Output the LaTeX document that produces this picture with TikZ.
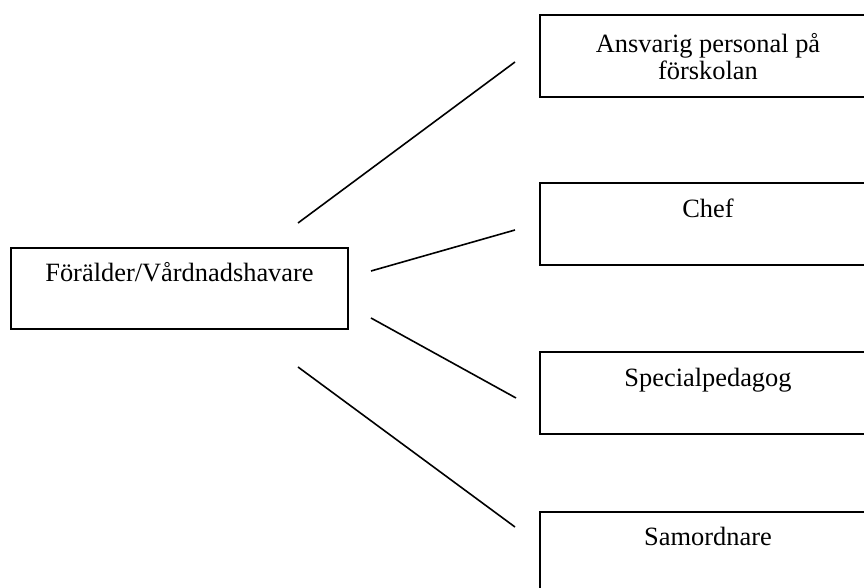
\documentclass[tikz,border=0pt]{standalone}
\usepackage{fontspec}
\setmainfont{Liberation Serif}
\tikzset{
	box/.style={draw, line width=1pt, minimum width=#1, minimum height=41pt,
		inner sep=0pt, anchor=north west},
	txt/.style={anchor=base, inner sep=0pt, align=center},
	link/.style={line width=0.8pt}
}
\begin{document}
\begin{tikzpicture}[x=0.5pt, y=-0.5pt,
		every node/.style={font=\fontsize{13.2}{13.5}\selectfont}]
	\clip (0,0) rectangle (864,588);
	\node[box=168.5pt, minimum height=40.5pt] (parent) at (10,247) {};
	\node[txt] (parenttxt) at ([yshift=-17.5pt]parent.north) {Förälder/Vårdnadshavare};
	\foreach \ttop/\nname in {14/staff, 182/chef, 351/spec, 511/coord}{
		\node[box=168pt] (\nname) at (539,\ttop) {};}
	\node[txt] (stafftxt) at ([yshift=-33pt]staff.north) {Ansvarig personal på\\förskolan};
	\node[txt] (cheftxt) at ([yshift=-18pt]chef.north) {Chef};
	\node[txt] (spectxt) at ([yshift=-18pt]spec.north) {Specialpedagog};
	\node[txt] (coordtxt) at ([yshift=-17.5pt]coord.north) {Samordnare};
	\foreach \i/\ax/\ay/\bx/\by in {1/298/223/515/62, 2/371/271/515/230,
			3/371/318/516/398, 4/298/367/515/527}{
		\coordinate (from\i) at (\ax,\ay);
		\coordinate (to\i) at (\bx,\by);
		\draw[link] (from\i) -- (to\i);}
\end{tikzpicture}
\end{document}
